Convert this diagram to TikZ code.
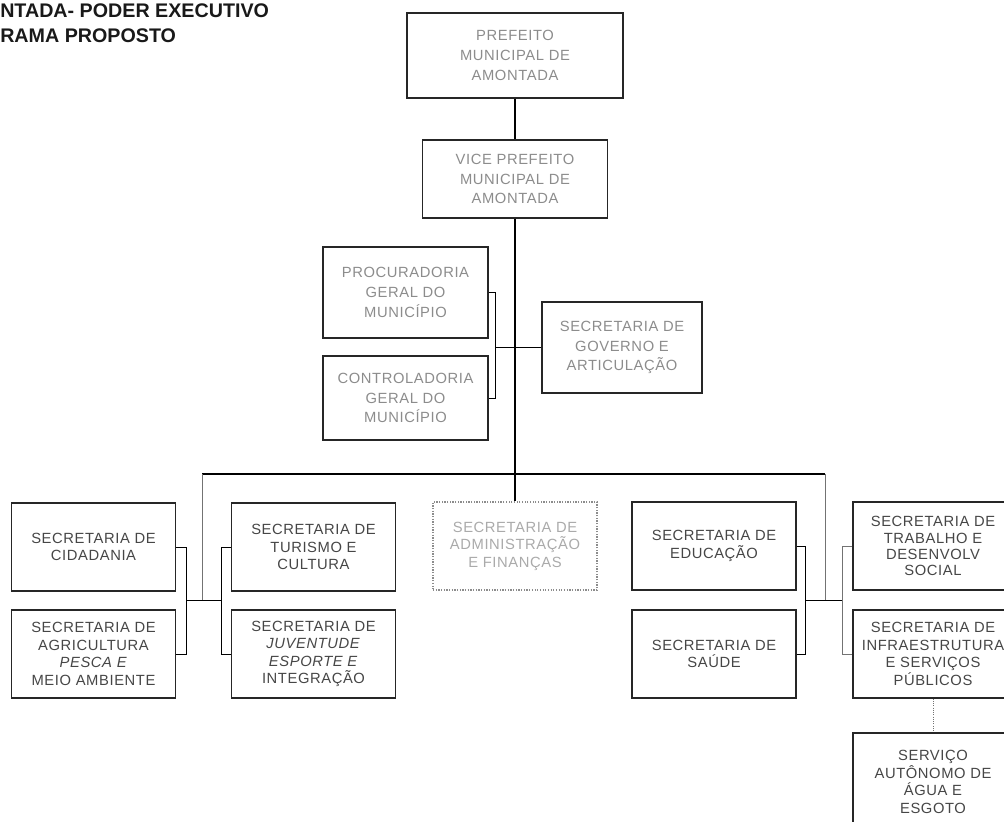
\documentclass[tikz,border=0pt]{standalone}
\usepackage{fontspec}
\setmainfont{Liberation Sans}
\usepackage{tikz}
\usetikzlibrary{positioning}
\definecolor{txtc}{RGB}{70,70,70}
\definecolor{paletxt}{RGB}{140,140,140}
\definecolor{fadetxt}{RGB}{170,170,170}

\begin{document}
\begin{tikzpicture}[
  x=0.025cm, y=-0.025cm,
  font=\fontsize{10.5}{12.5}\selectfont\addfontfeature{LetterSpace=4},
  org/.style={draw=black!85, line width=0.9pt, align=center, inner sep=2pt, text=txtc, minimum width=4.1cm, minimum height=2.2cm},
  topbox/.style={org, text=paletxt, font=\fontsize{10.5}{14}\selectfont\addfontfeature{LetterSpace=4}},
  fadebox/.style={org, draw=black!45, densely dotted, text=fadetxt},
  hdr/.style={anchor=north west, inner sep=0pt, align=left, text=black!90, font=\bfseries\fontsize{14}{18}\selectfont},
  trunk/.style={line width=1.3pt},
  brk/.style={line width=0.6pt},
  thinln/.style={line width=0.6pt, draw=black!55}
]
\useasboundingbox (0,0) rectangle (1004,821);

\node[hdr] (titulo) at (0,3) {NTADA- PODER EXECUTIVO\\RAMA PROPOSTO};

\node[topbox, minimum width=5.4cm, minimum height=2.125cm] (pref) at (515,55.5)
  {PREFEITO\\MUNICIPAL DE\\AMONTADA};
\node[topbox, minimum width=4.625cm, minimum height=1.95cm] (vice) at (515,179)
  {VICE PREFEITO\\MUNICIPAL DE\\AMONTADA};
\node[topbox, minimum width=4.125cm, minimum height=2.275cm] (proc) at (405.5,292.5)
  {PROCURADORIA\\GERAL DO\\MUNICÍPIO};
\node[topbox, minimum width=4.125cm, minimum height=2.1cm] (cont) at (405.5,398)
  {CONTROLADORIA\\GERAL DO\\MUNICÍPIO};
\node[topbox, minimum width=4cm, minimum height=2.275cm] (gov) at (622,347.5)
  {SECRETARIA DE\\GOVERNO E\\ARTICULAÇÃO};

\node[org] (cid) at (93.5,547) {SECRETARIA DE\\CIDADANIA};
\node[org] (agr) at (93.5,654) {SECRETARIA DE\\AGRICULTURA\\\textit{PESCA E}\\MEIO AMBIENTE};
\node[org] (tur) at (313.5,547) {SECRETARIA DE\\TURISMO E\\CULTURA};
\node[org] (juv) at (313.5,654) {SECRETARIA DE\\\textit{JUVENTUDE}\\\textit{ESPORTE E}\\INTEGRAÇÃO};
\node[fadebox] (adm) at (515,546) {SECRETARIA DE\\ADMINISTRAÇÃO\\E FINANÇAS};
\node[org] (edu) at (714,546) {SECRETARIA DE\\EDUCAÇÃO};
\node[org] (sau) at (714,654) {SECRETARIA DE\\SAÚDE};
\node[org, minimum width=4cm, font=\fontsize{10.5}{11.5}\selectfont\addfontfeature{LetterSpace=4}] (trab) at (933,546)
  {SECRETARIA DE\\TRABALHO E\\DESENVOLV\\SOCIAL};
\node[org, minimum width=4cm] (inf) at (933,654) {SECRETARIA DE\\INFRAESTRUTURA\\E SERVIÇOS\\PÚBLICOS};
\node[org, minimum width=4cm, minimum height=2.45cm] (serv) at (933,782)
  {SERVIÇO\\AUTÔNOMO DE\\ÁGUA E\\ESGOTO};

\coordinate (busL) at (202,474);
\coordinate (busR) at (825,474);
\coordinate (jL) at (202,600);
\coordinate (jR) at (825,600);

\draw[trunk] (pref.south) -- (vice.north);
\draw[trunk] (vice.south) -- (adm.north);
\draw[brk] (proc.east) -- ++(7,0) coordinate (procB) |- (cont.east);
\draw[brk] (procB |- gov.west) -- (gov.west);

\draw[trunk] (busL) -- (busR);
\draw[thinln] (busL) -- (jL);
\draw[thinln] (busR) -- (jR);

\draw[brk] (cid.east) -- ++(10,0) coordinate (cidB) |- (agr.east);
\draw[brk] (tur.west) -- ++(-9,0) coordinate (turB) |- (juv.west);
\draw[brk] (cidB |- jL) -- (turB |- jL);
\draw[brk] (edu.east) -- ++(9,0) coordinate (eduB) |- (sau.east);
\draw[thinln] (trab.west) -- ++(-10,0) coordinate (trabB) |- (inf.west);
\draw[brk] (eduB |- jR) -- (trabB |- jR);
\draw[thinln, densely dotted] (inf.south) -- (serv.north);
\end{tikzpicture}
\end{document}
